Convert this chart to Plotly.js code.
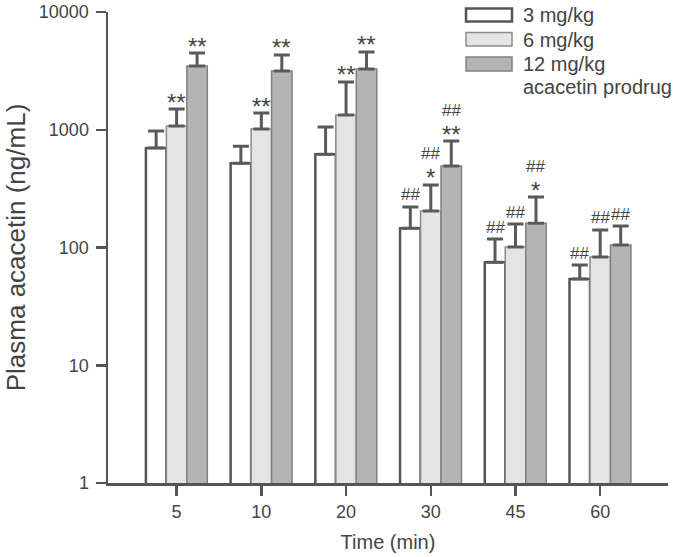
<!DOCTYPE html>
<html>
<head>
<meta charset="utf-8">
<script src="https://cdn.plot.ly/plotly-3.0.1.min.js"></script>
<style>html,body{margin:0;padding:0;background:#fff;}#chart{width:675px;height:557px;}</style>
</head>
<body>
<div id="chart"></div>
<script>
// ---- data ----
const times = ["5", "10", "20", "30", "45", "60"];
const seriesNames = ["3 mg/kg", "6 mg/kg", "12 mg/kg<br>acacetin prodrug"];
const mean3  = [700, 520, 620, 146, 75, 54];
const sd3    = [275, 205, 435, 75, 43, 17];
const mean6  = [1075, 1015, 1335, 204, 101, 83];
const sd6    = [425, 370, 1210, 136, 57, 58];
const mean12 = [3480, 3155, 3280, 492, 161, 105];
const sd12   = [1005, 1160, 1295, 310, 107, 47];
const star3  = ["", "", "", "", "", ""];
const star6  = ["**", "**", "**", "*", "", ""];
const star12 = ["**", "**", "**", "**", "*", ""];
const hash3  = ["", "", "", "##", "##", "##"];
const hash6  = ["", "", "", "##", "##", "##"];
const hash12 = ["", "", "", "##", "##", "##"];
const yTicks = [1, 10, 100, 1000, 10000];
const yTickText = ["1", "10", "100", "1000", "10000"];

// ---- styling / layout ----
const W = 675, H = 557;
const M = {l: 108, r: 7, t: 12, b: 74};
const plotW = W - M.l - M.r, plotH = H - M.t - M.b;
const xRange = [-0.81, 5.80];
const bargap = 0.275;
const FONT = "Liberation Sans, Arial, Helvetica, sans-serif";
const TXT = "#444";
const AX = "#555";
const fills = ["#ffffff", "#e4e4e4", "#b4b4b4"];
const lines = [{color: AX, width: 2.5}, {color: "#8a8a8a", width: 1.5}, {color: "#808080", width: 1.5}];
const means = [mean3, mean6, mean12];
const sds = [sd3, sd6, sd12];
const stars = [star3, star6, star12];
const hashes = [hash3, hash6, hash12];

const traces = means.map((m, k) => ({
  type: "bar",
  name: seriesNames[k],
  x: times,
  y: m,
  marker: {color: fills[k], line: lines[k]},
  error_y: {type: "data", symmetric: false, array: sds[k], arrayminus: m.map(() => 0),
            color: "#5a5a5a", thickness: 3, width: 8},
  showlegend: false,
  hoverinfo: "x+y"
}));

// annotation positions derived from the data (cap of each error bar)
const pxPerCat = plotW / (xRange[1] - xRange[0]);
const barW = (1 - bargap) / 3;
const annotations = [];
means.forEach((m, k) => {
  const dx = (k - 1) * barW * pxPerCat;
  m.forEach((v, i) => {
    const top = Math.log10(v + sds[k][i]);
    const st = stars[k][i], hs = hashes[k][i];
    if (st) {
      annotations.push({x: i, y: top, xref: "x", yref: "y", text: st,
        showarrow: false, xshift: dx, yshift: 7, yanchor: "middle",
        font: {family: FONT, size: 24, color: TXT}});
    }
    if (hs) {
      annotations.push({x: i, y: top, xref: "x", yref: "y", text: hs,
        showarrow: false, xshift: dx, yshift: st ? 31 : 12, yanchor: "middle",
        font: {family: FONT, size: 17, color: TXT}});
    }
  });
});

// custom legend (wide boxes)
const px2x = p => (p - M.l) / plotW;
const px2y = p => (H - M.b - p) / plotH;
const legBoxes = [[8.5, 21.5], [32.5, 46], [57, 71]];
const shapes = legBoxes.map((b, k) => ({
  type: "rect", xref: "paper", yref: "paper",
  x0: px2x(466), x1: px2x(512), y0: px2y(b[1]), y1: px2y(b[0]),
  fillcolor: fills[k], line: lines[k]
}));
const legLabels = ["3 mg/kg", "6 mg/kg", "12 mg/kg", "acacetin prodrug"];
const legY = [15, 40, 64, 87];
legLabels.forEach((t, j) => {
  annotations.push({xref: "paper", yref: "paper", x: px2x(521), y: px2y(legY[j]),
    xanchor: "left", yanchor: "middle", text: t, showarrow: false,
    font: {family: FONT, size: 20, color: TXT}});
});

const layout = {
  width: W, height: H,
  margin: M,
  paper_bgcolor: "#fff", plot_bgcolor: "#fff",
  font: {family: FONT, size: 18, color: TXT},
  barmode: "group", bargap: bargap, bargroupgap: 0,
  xaxis: {
    type: "category", range: xRange, showgrid: false, zeroline: false,
    showline: true, linecolor: AX, linewidth: 2.5,
    ticks: "outside", ticklen: 10, tickwidth: 2.5, tickcolor: AX,
    ticklabelstandoff: 1,
    tickfont: {family: FONT, size: 18, color: TXT},
    title: {text: "Time (min)", font: {family: FONT, size: 20, color: TXT}, standoff: 14}
  },
  yaxis: {
    type: "log", range: [0, 4], showgrid: false, zeroline: false,
    showline: true, linecolor: AX, linewidth: 2.5,
    tickvals: yTicks, ticktext: yTickText,
    ticks: "outside", ticklen: 10, tickwidth: 2.5, tickcolor: AX,
    ticklabelstandoff: 3,
    tickfont: {family: FONT, size: 18, color: TXT},
    title: {text: "Plasma acacetin (ng/mL)", font: {family: FONT, size: 26, color: TXT}, standoff: 6}
  },
  shapes: shapes,
  annotations: annotations
};

Plotly.newPlot("chart", traces, layout, {displayModeBar: false, staticPlot: true});
</script>
</body>
</html>
